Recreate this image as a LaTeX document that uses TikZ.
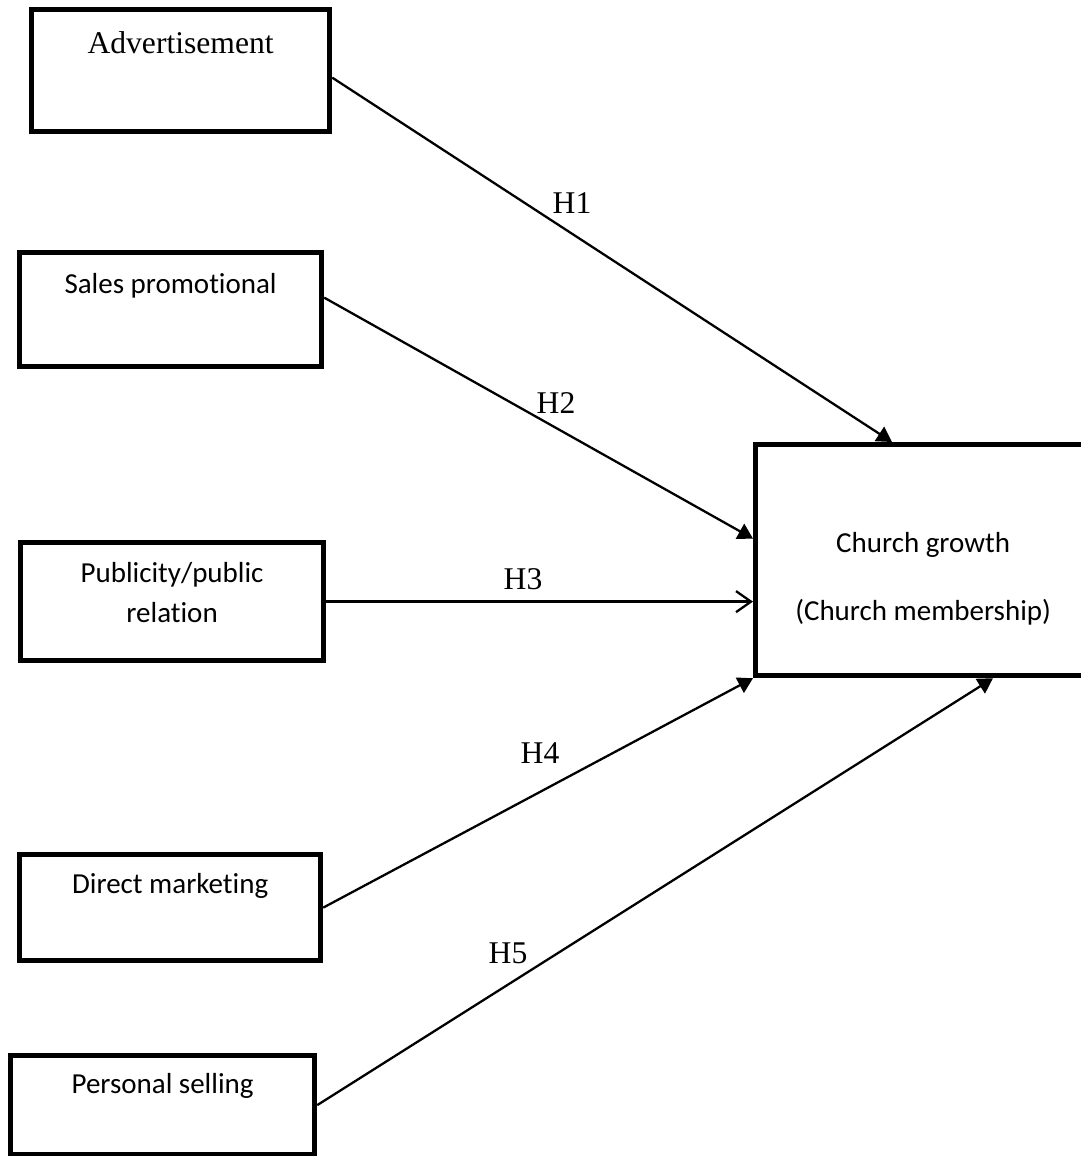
\documentclass[tikz,border=0pt]{standalone}
\usepackage{fontspec}
\setmainfont{Liberation Serif}
\newfontfamily\calibri[Ligatures=NoCommon]{Carlito}
\usepackage{tikz}
\usetikzlibrary{arrows.meta}

\begin{document}
\begin{tikzpicture}[x=0.02cm, y=-0.02cm,
  box/.style={rectangle, draw=black, line width=3pt, inner sep=0pt, anchor=north west},
  serifbox/.style={box, font=\fontsize{18}{21.6}\selectfont},
  sansbox/.style={box, font=\calibri\fontsize{16.5}{22.8}\selectfont},
  hyp/.style={anchor=base, inner sep=0pt, font=\fontsize{18}{21.6}\selectfont},
  arrow/.style={-{Triangle[length=0.3cm, width=0.34cm]}, line width=1.3pt},
  openarrow/.style={-{Straight Barb[length=0.3cm, width=0.42cm]}, line width=1.3pt}
]
  \useasboundingbox (0,0) rectangle (1081,1156);

  \node[serifbox, minimum width=5.96cm, text height=0.88cm, text depth=1.56cm] (adv) at (29,7) {Advertisement};
  \node[sansbox, minimum width=6.04cm, text height=0.82cm, text depth=1.46cm] (sales) at (17,250) {Sales promotional};
  \node[sansbox, minimum width=6.06cm, text height=0.80cm, text depth=1.56cm] (pub) at (18,540)
    {\begin{tabular}[t]{@{}c@{}}Publicity/public\\relation\end{tabular}};
  \node[sansbox, minimum width=6.02cm, text height=0.78cm, text depth=1.34cm] (direct) at (17,852) {Direct marketing};
  \node[sansbox, minimum width=6.08cm, text height=0.76cm, text depth=1.22cm] (personal) at (8,1053) {Personal selling};
  \node[sansbox, minimum width=6.7cm, text height=2.16cm, text depth=2.46cm] (church) at (753,442)
    {\begin{tabular}[t]{@{}c@{}}Church growth\\[15.9pt](Church membership)\end{tabular}};

  \draw[arrow] ([yshift=-0.14cm]adv.east) -- ([xshift=2.78cm]church.north west);
  \draw[arrow] ([yshift=0.24cm]sales.east) -- ([yshift=0.43cm]church.west);
  \draw[openarrow] (pub.east) -- (pub.east -| church.west);
  \draw[arrow] (direct.east) -- (church.south west);
  \draw[arrow] (personal.east) -- ([xshift=4.8cm]church.south west);

  \node[hyp] (h1) at (572,213) {H1};
  \node[hyp] (h2) at (556,413) {H2};
  \node[hyp] (h3) at (523,589) {H3};
  \node[hyp] (h4) at (540,763) {H4};
  \node[hyp] (h5) at (508,963) {H5};
\end{tikzpicture}
\end{document}
